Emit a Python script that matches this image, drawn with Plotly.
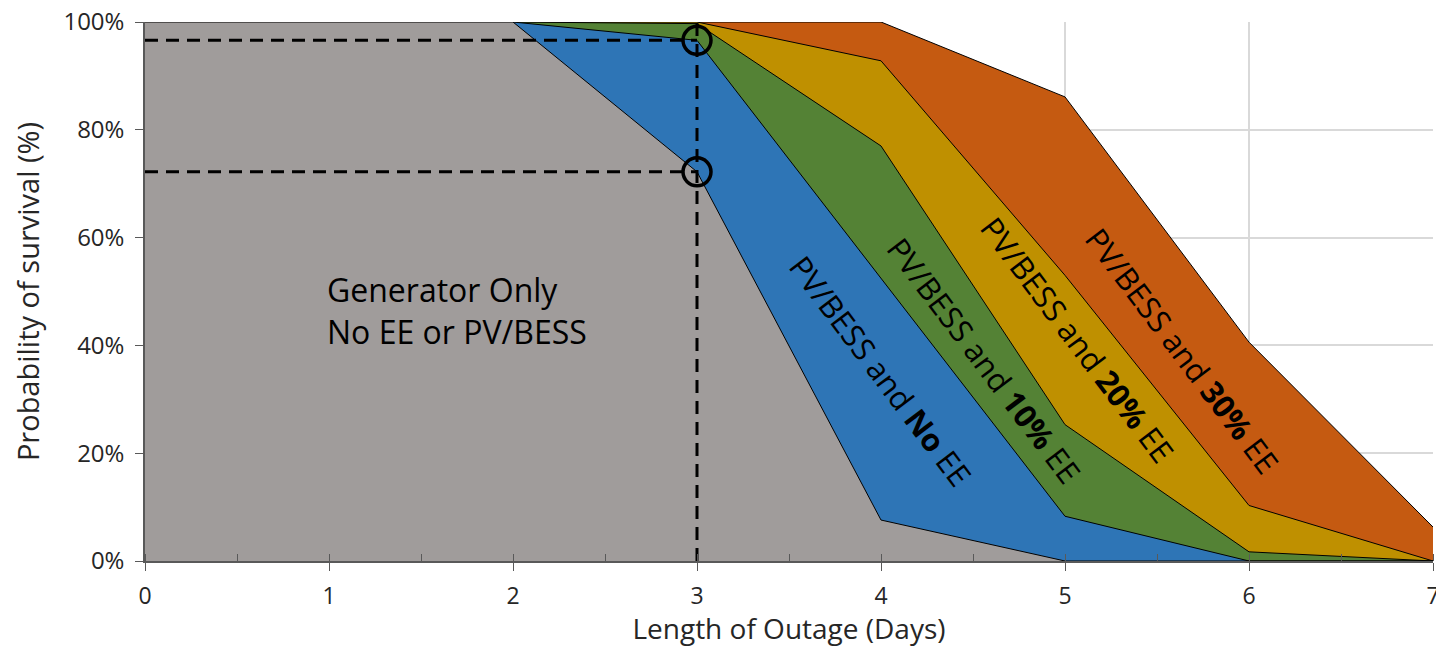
import plotly.graph_objects as go

days = [0, 1, 2, 3, 4, 5, 6, 7]
gen_only = [100, 100, 100, 72.2, 7.6, 0, 0, 0]
pv_no_ee = [100, 100, 100, 96.6, 52.5, 8.3, 0, 0]
pv_10_ee = [100, 100, 100, 99.7, 77.0, 25.3, 1.7, 0]
pv_20_ee = [100, 100, 100, 100, 92.8, 53.0, 10.3, 0]
pv_30_ee = [100, 100, 100, 100, 100, 86.1, 40.6, 6.3]

marker_day = 3
marker_vals = [96.6, 72.2]

y_ticks = [0, 20, 40, 60, 80, 100]
y_tick_labels = ["0%", "20%", "40%", "60%", "80%", "100%"]
x_ticks = [0, 1, 2, 3, 4, 5, 6, 7]

FONT = "Open Sans"
TXT = "#262626"

series = [
    (pv_30_ee, "#C55A11", "PV/BESS and 30% EE"),
    (pv_20_ee, "#BF9000", "PV/BESS and 20% EE"),
    (pv_10_ee, "#548235", "PV/BESS and 10% EE"),
    (pv_no_ee, "#2E75B6", "PV/BESS and No EE"),
    (gen_only, "#A09C9B", "Generator Only"),
]

fig = go.Figure()
for vals, col, name in series:
    fig.add_trace(go.Scatter(
        x=days, y=vals, mode="lines", fill="tozeroy", fillcolor=col,
        line=dict(color="black", width=1), name=name, showlegend=False,
        hoverinfo="skip"))

dash = "13px,8px"
for v in marker_vals:
    fig.add_trace(go.Scatter(x=[0, marker_day], y=[v, v], mode="lines",
                             line=dict(color="black", width=3, dash=dash),
                             showlegend=False, hoverinfo="skip"))
fig.add_trace(go.Scatter(x=[marker_day, marker_day], y=[0, 100.5], mode="lines",
                         line=dict(color="black", width=3, dash=dash),
                         showlegend=False, hoverinfo="skip", cliponaxis=False))
fig.add_trace(go.Scatter(x=[marker_day] * len(marker_vals), y=marker_vals, mode="markers",
                         marker=dict(symbol="circle-open", size=28, color="black",
                                     line=dict(width=3.5, color="black")),
                         showlegend=False, hoverinfo="skip"))

fig.add_annotation(x=0.98, y=46.4, xref="x", yref="y", xanchor="left", yanchor="middle",
                   text="Generator Only<br>No EE or PV/BESS", showarrow=False,
                   align="left", font=dict(family=FONT, size=32, color="black"))
rot_labels = [
    (4.00, 35.3, "PV/BESS and <b>No</b> EE"),
    (4.56, 37.3, "PV/BESS and <b>10%</b> EE"),
    (5.07, 41.0, "PV/BESS and <b>20%</b> EE"),
    (5.64, 39.0, "PV/BESS and <b>30%</b> EE"),
]
for x, y, t in rot_labels:
    fig.add_annotation(x=x, y=y, xref="x", yref="y", text=t, showarrow=False,
                       textangle=53, font=dict(family=FONT, size=31, color="black"))

fig.update_layout(
    width=1436, height=639,
    margin=dict(l=137, r=11, t=14, b=86),
    plot_bgcolor="white", paper_bgcolor="white",
    font=dict(family=FONT, color=TXT),
    xaxis=dict(range=[0, 7], tickvals=x_ticks, showgrid=True, gridcolor="#D9D9D9",
               gridwidth=1.5, showline=True, linecolor="#595959", linewidth=1.5,
               ticks="outside", ticklen=8, tickcolor="#595959",
               minor=dict(dtick=0.5, ticks="inside", ticklen=7, tickcolor="#595959", showgrid=False),
               tickfont=dict(size=23, family=FONT, color=TXT),
               ticklabelstandoff=6, ticklabeloverflow="allow",
               title=dict(text="Length of Outage (Days)", font=dict(size=28, family=FONT, color=TXT),
                          standoff=8),
               zeroline=False, automargin=False),
    yaxis=dict(range=[0, 100], tickvals=y_ticks, ticktext=y_tick_labels, showgrid=True,
               gridcolor="#D9D9D9", gridwidth=1.5, showline=True, linecolor="#595959", linewidth=1.5,
               ticks="outside", ticklen=8, tickcolor="#595959",
               tickfont=dict(size=24, family=FONT, color=TXT),
               ticklabelstandoff=6, ticklabeloverflow="allow",
               title=dict(text="Probability of survival (%)", font=dict(size=29, family=FONT, color=TXT),
                          standoff=24),
               zeroline=False, automargin=False),
)

fig.write_html("out.html")
